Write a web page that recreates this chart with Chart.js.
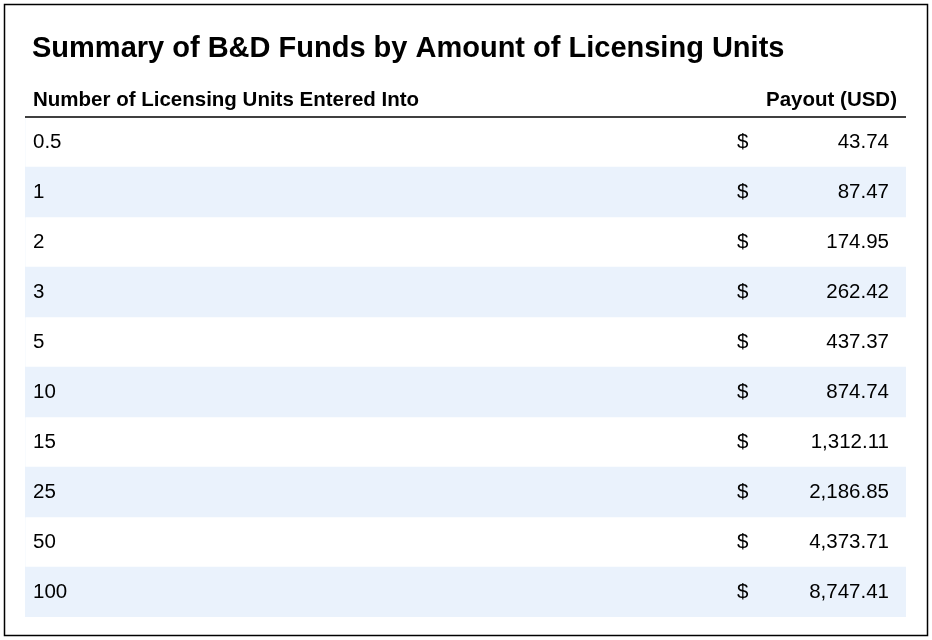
<!DOCTYPE html>
<html>
<head>
<meta charset="utf-8">
<script src="https://cdn.jsdelivr.net/npm/chart.js@4"></script>
<style>
  html, body { margin: 0; padding: 0; background: #fff; }
  #wrap { width: 932px; height: 640px; position: relative; }
</style>
</head>
<body>
<div id="wrap"><canvas id="tableChart"></canvas></div>
<script>
// Table data
const titleText = "Summary of B&D Funds by Amount of Licensing Units";
const headerLeft = "Number of Licensing Units Entered Into";
const headerRight = "Payout (USD)";
const units = ["0.5", "1", "2", "3", "5", "10", "15", "25", "50", "100"];
const payouts = [43.74, 87.47, 174.95, 262.42, 437.37, 874.74, 1312.11, 2186.85, 4373.71, 8747.41];
const stripe = units.map((u, i) => (i % 2 === 1 ? 1 : 0));

const FONT = "Liberation Sans, Arial, Helvetica, sans-serif";

// Draw title, header, border and cell text on top of the stripe bars
const tableText = {
  id: "tableText",
  afterDatasetsDraw(chart) {
    const ctx = chart.ctx;
    const area = chart.chartArea;
    const yScale = chart.scales.y;
    ctx.save();

    // outer border
    ctx.strokeStyle = "#000";
    ctx.lineWidth = 1.5;
    ctx.strokeRect(4.5, 4.5, 923, 631);

    ctx.fillStyle = "#000";
    ctx.textBaseline = "middle";
    ctx.font = "bold 29px " + FONT;
    ctx.textAlign = "left";
    ctx.fillText(titleText, 32, 49);

    ctx.font = "bold 20.5px " + FONT;
    ctx.fillText(headerLeft, 33, 100);
    ctx.textAlign = "right";
    ctx.fillText(headerRight, 897, 100);

    // header rule
    ctx.lineWidth = 1.5;
    ctx.beginPath();
    ctx.moveTo(area.left, area.top);
    ctx.lineTo(area.right, area.top);
    ctx.stroke();

    ctx.font = "20.5px " + FONT;
    units.forEach((u, i) => {
      const y = yScale.getPixelForValue(i);
      ctx.textAlign = "left";
      ctx.fillText(u, 33, y);
      ctx.fillText("$", 737, y);
      ctx.textAlign = "right";
      ctx.fillText(payouts[i].toLocaleString("en-US", { minimumFractionDigits: 2, maximumFractionDigits: 2 }), 889, y);
    });
    ctx.restore();
  },
};

new Chart(document.getElementById("tableChart"), {
  type: "bar",
  data: {
    labels: units,
    datasets: [
      {
        data: stripe,
        backgroundColor: "#eaf2fc",
        barPercentage: 1,
        categoryPercentage: 1,
        borderWidth: 0,
      },
    ],
  },
  options: {
    indexAxis: "y",
    responsive: true,
    maintainAspectRatio: false,
    animation: false,
    layout: { padding: { left: 25, right: 26, top: 117, bottom: 23 } },
    plugins: { legend: { display: false }, tooltip: { enabled: false } },
    scales: {
      x: { display: false, min: 0, max: 1 },
      y: { display: false },
    },
  },
  plugins: [tableText],
});
</script>
</body>
</html>
